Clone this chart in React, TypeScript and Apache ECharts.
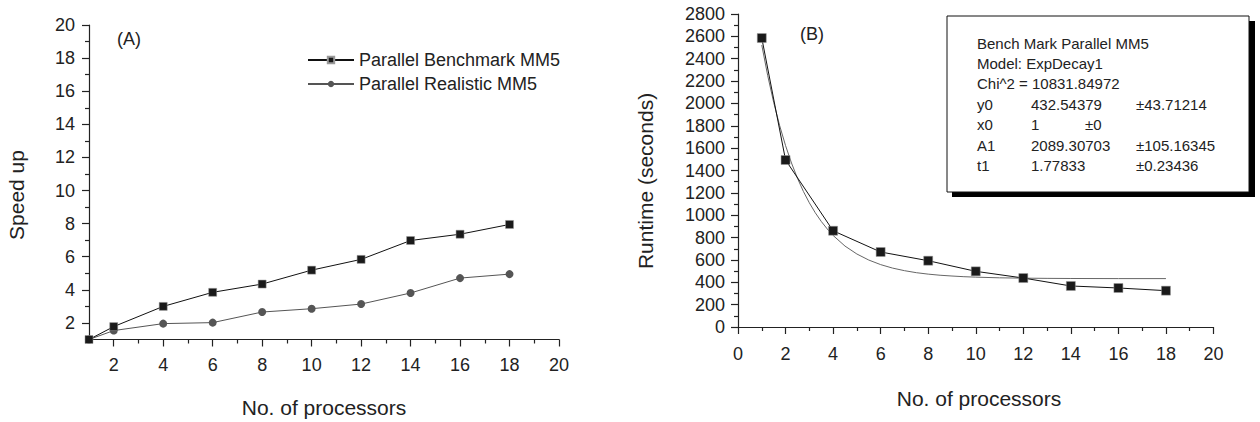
import React, { useEffect, useRef } from "react";
import * as echarts from "echarts";

// ---- Data ----
const processors = [1, 2, 4, 6, 8, 10, 12, 14, 16, 18];
const benchmarkSpeedup = [1, 1.78, 3.0, 3.85, 4.35, 5.19, 5.84, 6.98, 7.36, 7.95];
const realisticSpeedup = [1, 1.54, 1.96, 2.02, 2.66, 2.86, 3.14, 3.81, 4.71, 4.95];
const runtimeSeconds = [2585, 1494, 861, 671, 593, 498, 438, 367, 349, 325];
const fitProcessors = [1, 1.25, 1.5, 1.75, 2, 2.25, 2.5, 2.75, 3, 3.25, 3.5, 3.75, 4, 4.5, 5, 5.5, 6, 6.5, 7, 7.5, 8, 8.5, 9, 9.5, 10, 11, 12, 13, 14, 16, 18];
const fitRuntime = [2522, 2248, 2010, 1803, 1623, 1467, 1331, 1213, 1111, 1022, 945, 878, 819, 724, 653, 599, 558, 527, 504, 486, 473, 463, 456, 450, 446, 440, 437, 435, 434, 433, 433];

const speedupMajor = [2, 4, 6, 8, 10, 12, 14, 16, 18, 20];
const speedupMinor = [3, 5, 7, 9, 11, 13, 15, 17, 19];

const seriesNames = ["Parallel Benchmark MM5", "Parallel Realistic MM5"];
const fitRows = [
  ["Bench Mark Parallel MM5", "", ""],
  ["Model: ExpDecay1", "", ""],
  ["Chi^2 = 10831.84972", "", ""],
  ["y0", "432.54379", "±43.71214"],
  ["x0", "1", "±0"],
  ["A1", "2089.30703", "±105.16345"],
  ["t1", "1.77833", "±0.23436"],
];

const FONT = "'Liberation Sans', Arial, sans-serif";
const TXT = "#222";
const AX = "#222";

const pair = (xs: number[], ys: number[]) => xs.map((x, i) => [x, ys[i]]);

export default function App() {
  const ref = useRef<HTMLDivElement>(null);
  useEffect(() => {
    if (!ref.current) return;
    const chart = echarts.init(ref.current, null, { renderer: "svg" });
    const axisLine = { show: true, onZero: false, lineStyle: { color: AX, width: 1.2 } };
    const label = (margin: number, extra: any = {}) => ({
      fontSize: 18,
      color: TXT,
      fontFamily: FONT,
      margin,
      formatter: (v: number) => String(v),
      ...extra,
    });

    const statsGraphics: any[] = [];
    fitRows.forEach((row, i) => {
      const y = 43 + i * 20.4;
      const cols = i === 4 ? [977, 1031, 1085] : [977, 1031, 1136];
      row.forEach((t, j) => {
        if (!t) return;
        statsGraphics.push({
          type: "text",
          x: cols[j],
          y,
          z: 12,
          style: { text: t, fontSize: 15, fill: TXT, fontFamily: FONT, textVerticalAlign: "middle" },
        });
      });
    });

    chart.setOption({
      animation: false,
      backgroundColor: "#fff",
      textStyle: { fontFamily: FONT },
      grid: [
        { left: 89, top: 25, width: 470, height: 314.5 },
        { left: 738, top: 14, width: 475.5, height: 313 },
      ],
      legend: {
        data: seriesNames,
        orient: "vertical",
        left: 302,
        top: 46,
        itemWidth: 46,
        itemHeight: 8,
        itemGap: 6,
        textStyle: { fontSize: 18, color: TXT, fontFamily: FONT },
      },
      xAxis: [
        {
          gridIndex: 0, type: "value", min: 1, max: 20, position: "bottom",
          axisLine,
          axisTick: { show: true, customValues: speedupMajor, length: 7, lineStyle: { color: AX, width: 1.2 } },
          axisLabel: label(16, { customValues: speedupMajor }),
          splitLine: { show: false },
        },
        {
          gridIndex: 0, type: "value", min: 1, max: 20, position: "bottom",
          axisLine: { show: false, onZero: false },
          axisTick: { show: true, customValues: speedupMinor, length: 4, lineStyle: { color: AX, width: 1.2 } },
          axisLabel: { show: false },
          splitLine: { show: false },
        },
        {
          gridIndex: 1, type: "value", min: 0, max: 20, interval: 2, position: "bottom",
          axisLine,
          axisTick: { show: true, length: 7, lineStyle: { color: AX, width: 1.2 } },
          minorTick: { show: true, splitNumber: 2, length: 4, lineStyle: { color: AX, width: 1.2 } },
          axisLabel: label(18),
          splitLine: { show: false },
          minorSplitLine: { show: false },
        },
      ],
      yAxis: [
        {
          gridIndex: 0, type: "value", min: 1, max: 20, position: "left",
          axisLine,
          axisTick: { show: true, customValues: speedupMajor, length: 7, lineStyle: { color: AX, width: 1.2 } },
          axisLabel: label(14, { customValues: speedupMajor }),
          splitLine: { show: false },
        },
        {
          gridIndex: 0, type: "value", min: 1, max: 20, position: "left",
          axisLine: { show: false, onZero: false },
          axisTick: { show: true, customValues: speedupMinor, length: 4, lineStyle: { color: AX, width: 1.2 } },
          axisLabel: { show: false },
          splitLine: { show: false },
        },
        {
          gridIndex: 1, type: "value", min: 0, max: 2800, interval: 200, position: "left",
          axisLine,
          axisTick: { show: true, length: 7, lineStyle: { color: AX, width: 1.2 } },
          minorTick: { show: true, splitNumber: 2, length: 4, lineStyle: { color: AX, width: 1.2 } },
          axisLabel: label(13),
          splitLine: { show: false },
          minorSplitLine: { show: false },
        },
      ],
      series: [
        {
          name: seriesNames[0], type: "line", xAxisIndex: 0, yAxisIndex: 0,
          data: pair(processors, benchmarkSpeedup),
          symbol: "rect", symbolSize: 8,
          lineStyle: { color: "#111", width: 1 },
          itemStyle: { color: "#1a1a1a", borderColor: "#999", borderWidth: 0.5 },
          z: 3,
        },
        {
          name: seriesNames[1], type: "line", xAxisIndex: 0, yAxisIndex: 0,
          data: pair(processors, realisticSpeedup),
          symbol: "circle", symbolSize: 8,
          lineStyle: { color: "#555", width: 1 },
          itemStyle: { color: "#555", borderWidth: 0 },
          z: 2,
        },
        {
          name: "fit", type: "line", xAxisIndex: 2, yAxisIndex: 2,
          data: pair(fitProcessors, fitRuntime),
          smooth: false, showSymbol: false, symbol: "none",
          lineStyle: { color: "#666", width: 1 },
          z: 2,
        },
        {
          name: "runtime", type: "line", xAxisIndex: 2, yAxisIndex: 2,
          data: pair(processors, runtimeSeconds),
          symbol: "rect", symbolSize: 9,
          lineStyle: { color: "#111", width: 1 },
          itemStyle: { color: "#1a1a1a", borderColor: "#999", borderWidth: 0.5 },
          z: 3,
        },
      ],
      graphic: [
        { type: "text", x: 117, y: 39, style: { text: "(A)", fontSize: 18, fill: TXT, fontFamily: FONT, textVerticalAlign: "middle" } },
        { type: "text", x: 800, y: 34, style: { text: "(B)", fontSize: 18, fill: TXT, fontFamily: FONT, textVerticalAlign: "middle" } },
        { type: "text", x: 16, y: 195, rotation: Math.PI / 2, style: { text: "Speed up", fontSize: 21, fill: TXT, fontFamily: FONT, textAlign: "center", textVerticalAlign: "middle" } },
        { type: "text", x: 645, y: 181, rotation: Math.PI / 2, style: { text: "Runtime (seconds)", fontSize: 21, fill: TXT, fontFamily: FONT, textAlign: "center", textVerticalAlign: "middle" } },
        { type: "text", x: 324, y: 407, style: { text: "No. of processors", fontSize: 21, fill: TXT, fontFamily: FONT, textAlign: "center", textVerticalAlign: "middle" } },
        { type: "text", x: 979, y: 398, style: { text: "No. of processors", fontSize: 21, fill: TXT, fontFamily: FONT, textAlign: "center", textVerticalAlign: "middle" } },
        { type: "rect", shape: { x: 952, y: 21, width: 303, height: 176 }, style: { fill: "#000" }, z: 10 },
        { type: "rect", shape: { x: 947, y: 16, width: 302, height: 176 }, style: { fill: "#fff", stroke: "#111", lineWidth: 1 }, z: 11 },
        ...statsGraphics,
      ],
    });
    return () => chart.dispose();
  }, []);
  return <div ref={ref} style={{ position: "absolute", left: 0, top: 0, width: 1260, height: 422 }} />;
}
